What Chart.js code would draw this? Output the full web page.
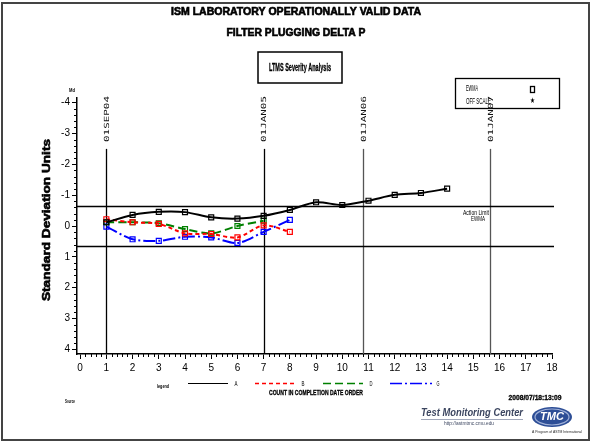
<!DOCTYPE html>
<html><head><meta charset="utf-8">
<script src="https://cdn.jsdelivr.net/npm/chart.js@4/dist/chart.umd.min.js"></script>
<style>html,body{margin:0;padding:0;background:#fff;}canvas{display:block;}</style>
</head><body>
<canvas id="c" width="592" height="444"></canvas>
<script>
// ---- data ----
const countA = [1,2,3,4,5,6,7,8,9,10,11,12,13,14];
const valuesA = [-0.12,-0.36,-0.46,-0.45,-0.28,-0.24,-0.33,-0.52,-0.77,-0.68,-0.82,-1.01,-1.07,-1.21];
const countB = [1,2,3,4,5,6,7,8];
const valuesB = [-0.22,-0.12,-0.07,0.24,0.26,0.37,-0.02,0.19];
const countD = [1,2,3,4,5,6,7];
const valuesD = [-0.12,-0.12,-0.09,0.10,0.24,0.00,-0.17];
const countG = [1,2,3,4,5,6,7,8];
const valuesG = [0.02,0.43,0.48,0.35,0.37,0.55,0.19,-0.20];
const seriesNames = ['A','B','D','G'];
const xTicks = [0,1,2,3,4,5,6,7,8,9,10,11,12,13,14,15,16,17,18];
const yTicks = [-4,-3,-2,-1,0,1,2,3,4];
const dateMarks = [1, 7, 10.8, 15.65];
const dateLabels = ['01SEP04','01JAN05','01JAN06','01JAN07'];
const actionLimit = 0.64;

const NARROW = '"Liberation Sans Narrow","Arial Narrow",sans-serif';
const SANS = '"Liberation Sans",Arial,sans-serif';

function pts(xs, ys){ return xs.map((x,i)=>({x:x, y:ys[i]})); }

function drawText(ctx, s, x, y, font, w, align, color, rot, heavy){
  ctx.save();
  ctx.translate(x, y);
  if (rot) ctx.rotate(rot);
  ctx.font = font;
  ctx.fillStyle = color || '#000';
  ctx.textBaseline = 'middle';
  ctx.textAlign = align || 'center';
  const m = ctx.measureText(s).width;
  if (w) ctx.scale(w / m, 1);
  ctx.fillText(s, 0, 0);
  if (heavy){ ctx.strokeStyle = color || '#000'; ctx.lineWidth = heavy; ctx.strokeText(s, 0, 0); }
  ctx.restore();
}

const styles = [
  {color:'#000000', dash:[]},
  {color:'#ff0000', dash:[4,3]},
  {color:'#008000', dash:[8,4]},
  {color:'#0000ff', dash:[12,3,2,3]}
];

function ds(label, data, st){
  return {
    label: label, data: data, borderColor: st.color, backgroundColor: 'rgba(0,0,0,0)',
    borderWidth: 2, borderDash: st.dash, tension: 0.3,
    pointStyle: 'rect', pointRadius: 3.5, pointBorderWidth: 1.2,
    pointBorderColor: st.color, pointBackgroundColor: 'rgba(0,0,0,0)'
  };
}

const decor = {
  id: 'decor',
  beforeDatasetsDraw(chart){
    const ctx = chart.ctx, xs = chart.scales.x, ys = chart.scales.y, ca = chart.chartArea;
    ctx.save();
    dateMarks.forEach((d,i)=>{
      const px = Math.round(xs.getPixelForValue(d)) + 0.5;
      ctx.strokeStyle = i >= 2 ? '#555' : '#000';
      ctx.lineWidth = 1.3;
      ctx.beginPath(); ctx.moveTo(px, ys.getPixelForValue(-2.5)); ctx.lineTo(px, ca.bottom); ctx.stroke();
    });
    ctx.strokeStyle = '#000'; ctx.lineWidth = 1.3;
    [-actionLimit, actionLimit].forEach(v=>{
      const py = Math.round(ys.getPixelForValue(v)) + 0.5;
      ctx.beginPath(); ctx.moveTo(ca.left, py); ctx.lineTo(ca.right + 2, py); ctx.stroke();
    });
    ctx.restore();
  },
  afterDraw(chart){
    const ctx = chart.ctx, xs = chart.scales.x, ys = chart.scales.y, ca = chart.chartArea;
    ctx.save();
    ctx.strokeStyle = '#444'; ctx.lineWidth = 2;
    ctx.strokeRect(2, 3, 587, 437);
    ctx.strokeStyle = '#000'; ctx.lineWidth = 1;
    for (let k = 0; k <= 90; k++){
      if (k % 5 === 0) continue;
      const px = Math.round(xs.getPixelForValue(k * 0.2)) + 0.5;
      ctx.beginPath(); ctx.moveTo(px, ca.bottom); ctx.lineTo(px, ca.bottom + 3); ctx.stroke();
    }
    for (let k = -20; k <= 20; k++){
      if (k % 5 === 0) continue;
      const py = Math.round(ys.getPixelForValue(k * 0.2)) + 0.5;
      ctx.beginPath(); ctx.moveTo(ca.left, py); ctx.lineTo(ca.left - 3, py); ctx.stroke();
    }
    // titles
    drawText(ctx, 'ISM LABORATORY OPERATIONALLY VALID DATA', 296, 12, 'bold 10px ' + SANS, 250, 'center', '#000', 0, 0.6);
    drawText(ctx, 'FILTER PLUGGING DELTA P', 296, 33, 'bold 10px ' + SANS, 139, 'center', '#000', 0, 0.6);
    ctx.strokeStyle = '#000'; ctx.lineWidth = 1.5;
    ctx.strokeRect(258, 52, 84, 31);
    drawText(ctx, 'LTMS Severity Analysis', 300, 68, 'bold 10px ' + NARROW, 62, 'center', '#000', 0, 0.3);
    // y title
    drawText(ctx, 'Standard Deviation Units', 47, 220, 'bold 11px ' + SANS, 162, 'center', '#000', -Math.PI/2, 0.6);
    drawText(ctx, 'Md', 72, 90, 'bold 6px ' + NARROW, 6);
    // legend box top-right
    ctx.strokeStyle = '#000'; ctx.lineWidth = 1.3;
    ctx.strokeRect(455.5, 78.5, 104, 30);
    drawText(ctx, 'EWMA', 466, 89, '9px ' + NARROW, 12, 'left');
    ctx.strokeRect(530.5, 86.5, 4, 6);
    drawText(ctx, 'OFF SCALE', 466, 102, '9px ' + NARROW, 25, 'left');
    drawText(ctx, '\u2605', 532.5, 101, '8px "DejaVu Sans"', 5);
    // date labels
    dateMarks.forEach((d,i)=>{
      const px = xs.getPixelForValue(d);
      drawText(ctx, dateLabels[i], px + 0.5, 119, '7px "DejaVu Sans Mono"', 46, 'center', '#111', -Math.PI/2);
    });
    // action limit text
    drawText(ctx, 'Action Limit', 489, 213, '8px ' + NARROW, 26, 'right');
    drawText(ctx, 'EWMA', 485, 219, '8px ' + NARROW, 14, 'right');
    // bottom legend
    drawText(ctx, 'legend', 163, 386, 'bold 6px ' + NARROW, 12);
    const segs = [[188,228,236],[255,297,303],[323,363,371],[390,432,438]];
    segs.forEach((s,i)=>{
      ctx.save();
      ctx.strokeStyle = styles[i].color; ctx.lineWidth = i === 0 ? 1 : 1.5;
      ctx.setLineDash(styles[i].dash);
      ctx.beginPath(); ctx.moveTo(s[0], 383.5); ctx.lineTo(s[1], 383.5); ctx.stroke();
      ctx.restore();
      drawText(ctx, seriesNames[i], s[2], 384, '7px ' + NARROW, 3);
    });
    drawText(ctx, 'COUNT IN COMPLETION DATE ORDER', 316, 393, 'bold 7px ' + NARROW, 94, 'center', '#000', 0, 0.3);
    // footer
    drawText(ctx, 'Source', 70, 402, 'bold 5px ' + NARROW, 10);
    drawText(ctx, '2008/07/18:13:09', 535, 398, 'bold 7px ' + NARROW, 53, 'center', '#000', 0, 0.3);
    drawText(ctx, 'Test Monitoring Center', 472, 413, 'italic bold 10px ' + SANS, 102, 'center', '#3c4660');
    ctx.strokeStyle = '#8890a8'; ctx.lineWidth = 0.8;
    ctx.beginPath(); ctx.moveTo(421, 419.5); ctx.lineTo(523, 419.5); ctx.stroke();
    drawText(ctx, 'http://astmtmc.cmu.edu', 469, 424, '5px ' + SANS, 50, 'center', '#3c4660');
    ctx.fillStyle = '#2d4e96';
    ctx.beginPath(); ctx.ellipse(552, 417, 20, 10, 0, 0, Math.PI*2); ctx.fill();
    ctx.strokeStyle = '#9fb0d8'; ctx.lineWidth = 1.2;
    ctx.beginPath(); ctx.ellipse(552, 417, 17, 8, 0, 0, Math.PI*2); ctx.stroke();
    drawText(ctx, 'TMC', 552, 417, 'italic bold 11px ' + SANS, 24, 'center', '#ffffff');
    drawText(ctx, 'A Program of ASTM International', 557, 432, '4px ' + SANS, 50, 'center', '#222');
    ctx.restore();
  }
};

const tickFont = {family: NARROW, size: 10};
new Chart(document.getElementById('c'), {
  type: 'line',
  data: {
    datasets: [
      ds('A', pts(countA, valuesA), styles[0]),
      ds('B', pts(countB, valuesB), styles[1]),
      ds('D', pts(countD, valuesD), styles[2]),
      ds('G', pts(countG, valuesG), styles[3])
    ]
  },
  options: {
    responsive: false, animation: false, devicePixelRatio: 1,
    layout: {padding: {left: 0, top: 98, right: 40, bottom: 0}},
    plugins: {legend: {display: false}, tooltip: {enabled: false}, title: {display: false}},
    scales: {
      x: {
        type: 'linear', min: -0.12, max: 18,
        afterFit: s => { s.height = 90; },
        afterBuildTicks: s => { s.ticks = xTicks.map(v => ({value: v})); },
        ticks: {font: tickFont, color: '#000', padding: 3, maxRotation: 0, autoSkip: false},
        grid: {drawOnChartArea: false, tickLength: 5, color: '#000', lineWidth: 1},
        border: {color: '#000', width: 1.5}
      },
      y: {
        type: 'linear', reverse: true, min: -4.15, max: 4.15,
        afterFit: s => { s.width = 77; },
        afterBuildTicks: s => { s.ticks = yTicks.map(v => ({value: v})); },
        ticks: {font: tickFont, color: '#000', padding: 2, autoSkip: false},
        grid: {drawOnChartArea: false, tickLength: 5, color: '#000', lineWidth: 1},
        border: {color: '#000', width: 1.5}
      }
    }
  },
  plugins: [decor]
});
</script>
</body></html>
